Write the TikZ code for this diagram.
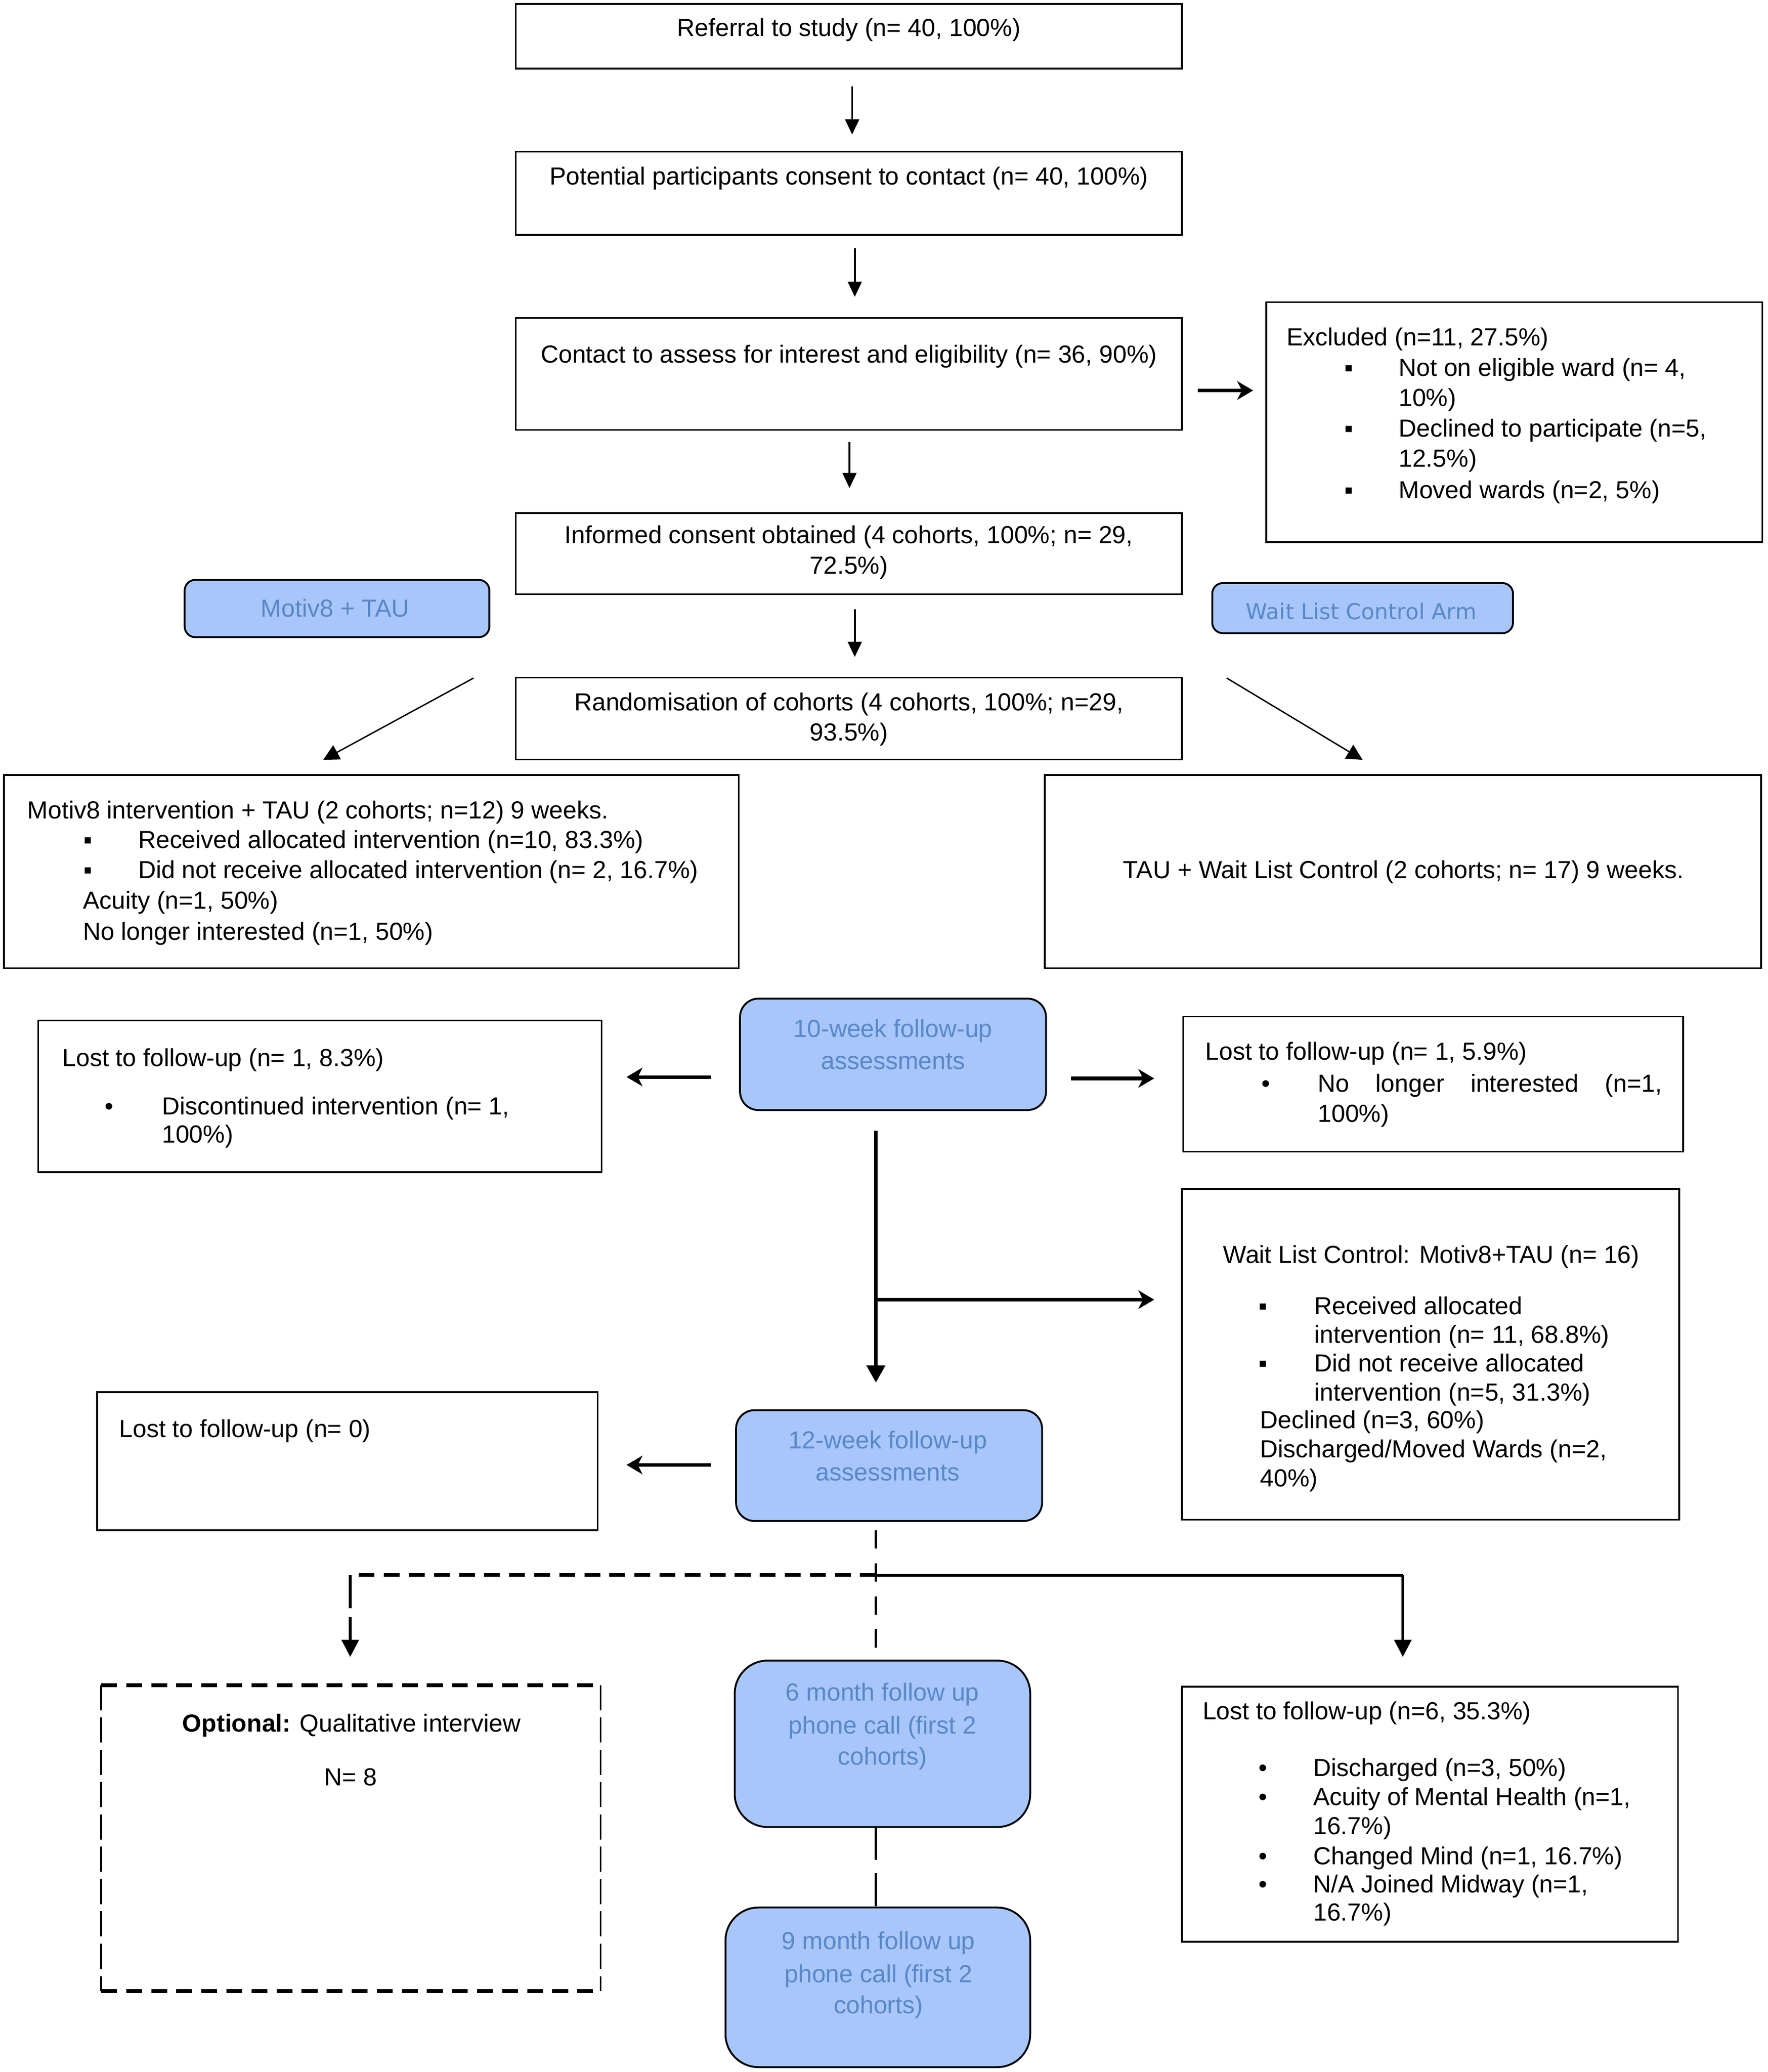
\documentclass[tikz,border=0pt]{standalone}
\usepackage{fontspec}
\setmainfont{Liberation Sans}
\newfontfamily\armfont{DejaVu Sans}
\usetikzlibrary{arrows.meta,fit}
\definecolor{boxblue}{RGB}{168,198,250}
\definecolor{txtblue}{RGB}{88,136,200}
\newcommand{\fs}{\fontsize{10.64pt}{13.1pt}\selectfont}
\tikzset{
  box/.style={draw, line width=0.75pt, inner sep=0pt},
  rbox/.style={draw, line width=0.8pt, fill=boxblue, inner sep=0pt, rounded corners=#1},
  tl/.style={anchor=base west, inner sep=0pt, font=\fs},
  tc/.style={anchor=base, inner sep=0pt, font=\fs},
  bt/.style={anchor=base, inner sep=0pt, font=\fs, text=txtblue},
  arr/.style={-{Triangle[length=2.3mm,width=2.1mm]}, line width=0.8pt},
  darr/.style={-{Triangle[length=2.4mm,width=2.4mm]}, line width=0.6pt},
  tarr/.style={-{Stealth[length=2.4mm,width=2.8mm,inset=0.7mm]}, line width=1.5pt},
  varr/.style={-{Triangle[length=2.6mm,width=2.8mm]}, line width=1.3pt},
  shortdash/.style={dash pattern=on 2.4mm off 1.4mm}
}
\begin{document}
\begin{tikzpicture}[x=0.2mm,y=-0.2mm]
\path[use as bounding box, fill=white] (0,0) rectangle (1340,1570.7);

% --- top chain
\node[box, fit={(391,3)(896,52)}] (ref) {};
\node[tc] (refT) at (643.5,27.5) {Referral to study (n= 40, 100\%)};
\coordinate (a1s) at (646,65.6); \coordinate (a1e) at (646,102);
\draw[arr] (a1s) -- (a1e);

\node[box, fit={(391,115)(896,178)}] (pot) {};
\node[tc] (potT) at (643.5,140) {Potential participants consent to contact (n= 40, 100\%)};
\coordinate (a2s) at (648,188); \coordinate (a2e) at (648,225);
\draw[arr] (a2s) -- (a2e);

\node[box, fit={(391,241)(896,326)}] (con) {};
\node[tc] (conT) at (643.5,275) {Contact to assess for interest and eligibility (n= 36, 90\%)};
\coordinate (a3s) at (644,335); \coordinate (a3e) at (644,370);
\draw[arr] (a3s) -- (a3e);
\coordinate (axs) at (908,296); \coordinate (axe) at (950,296);
\draw[tarr] (axs) -- (axe);

% --- excluded
\node[box, fit={(960,229)(1336,411)}] (exc) {};
\node[tl] (excT) at (975,262) {Excluded (n=11, 27.5\%)};
\node[tl] (excB1) at (1019,285) {▪};
\node[tl] (excL1) at (1060,285) {Not on eligible ward (n= 4,};
\node[tl] (excL1b) at (1060,308) {10\%)};
\node[tl] (excB2) at (1019,331) {▪};
\node[tl] (excL2) at (1060,331) {Declined to participate (n=5,};
\node[tl] (excL2b) at (1060,354) {12.5\%)};
\node[tl] (excB3) at (1019,378) {▪};
\node[tl] (excL3) at (1060,378) {Moved wards (n=2, 5\%)};

% --- consent
\node[box, fit={(391,389)(896,450.5)}] (inf) {};
\node[tc] (infT1) at (643.5,412) {Informed consent obtained (4 cohorts, 100\%; n= 29,};
\node[tc] (infT2) at (643.5,435) {72.5\%)};
\coordinate (a4s) at (648,462); \coordinate (a4e) at (648,498);
\draw[arr] (a4s) -- (a4e);

% --- arm labels
\node[rbox=1.6mm, fit={(140,439.6)(371,483)}] (armA) {};
\node[bt] (armAT) at (254,467.5) {Motiv8 + TAU};
\node[rbox=1.6mm, fit={(919,442)(1147,480)}] (armB) {};
\node[anchor=base, inner sep=0pt, text=txtblue, font=\armfont\fontsize{9.4pt}{11pt}\selectfont] (armBT) at (1032,469.5) {Wait List Control Arm};

% --- randomisation
\node[box, fit={(391,513.7)(896,575.7)}] (ran) {};
\node[tc] (ranT1) at (643.5,538.8) {Randomisation of cohorts (4 cohorts, 100\%; n=29,};
\node[tc] (ranT2) at (643.5,561.4) {93.5\%)};
\coordinate (dls) at (359,514); \coordinate (dle) at (245,576);
\draw[darr] (dls) -- (dle);
\coordinate (drs) at (930,514); \coordinate (dre) at (1033,576);
\draw[darr] (drs) -- (dre);

% --- arms
\node[box, fit={(3,587.6)(560,734)}] (mot) {};
\node[tl] (motT) at (20.5,620.5) {Motiv8 intervention + TAU (2 cohorts; n=12) 9 weeks.};
\node[tl] (motB1) at (63,643) {▪};
\node[tl] (motL1) at (104.4,643) {Received allocated intervention (n=10, 83.3\%)};
\node[tl] (motB2) at (63,666) {▪};
\node[tl] (motL2) at (104.4,666) {Did not receive allocated intervention (n= 2, 16.7\%)};
\node[tl] (motL3) at (62.5,689) {Acuity (n=1, 50\%)};
\node[tl] (motL4) at (62.5,712.5) {No longer interested (n=1, 50\%)};

\node[box, fit={(792,587.6)(1335,734)}] (tau) {};
\node[tc] (tauT) at (1064,666) {TAU + Wait List Control (2 cohorts; n= 17) 9 weeks.};

% --- 10 week
\node[rbox=2.8mm, fit={(561,757)(793,841.5)}] (w10) {};
\node[bt] (w10T1) at (677,786.3) {10-week follow-up};
\node[bt] (w10T2) at (677,810.6) {assessments};

\node[box, fit={(29,773.5)(456,888.5)}] (l10a) {};
\node[tl] (l10aT) at (47,808.4) {Lost to follow-up (n= 1, 8.3\%)};
\node[tl] (l10aB) at (79,845) {•};
\node[tl] (l10aL1) at (122.4,845) {Discontinued intervention (n= 1,};
\node[tl] (l10aL2) at (122.4,866.4) {100\%)};
\coordinate (a5s) at (539,816.4); \coordinate (a5e) at (475,816.4);
\draw[tarr] (a5s) -- (a5e);

\node[box, fit={(897,770.6)(1276,873)}] (l10b) {};
\node[tl] (l10bT) at (913.5,803.5) {Lost to follow-up (n= 1, 5.9\%)};
\node[tl] (l10bB) at (956,827.8) {•};
\node[tl] (l10bL1) at (998.7,827.8) {\makebox[52.2mm][s]{No longer interested (n=1,}};
\node[tl] (l10bL2) at (998.7,850.7) {100\%)};
\coordinate (a6s) at (812,817.5); \coordinate (a6e) at (875,817.5);
\draw[tarr] (a6s) -- (a6e);

% --- vertical 10 -> 12 with branch
\coordinate (v1s) at (664,857); \coordinate (v1e) at (664,1048);
\draw[varr] (v1s) -- (v1e);
\coordinate (brs) at (664,985.2); \coordinate (bre) at (875,985.2);
\draw[tarr] (brs) -- (bre);

% --- WLC box
\node[box, fit={(896,901.3)(1273,1152)}] (wlc) {};
\node[tl] (wlcT) at (927,957.4) {Wait List Control: Motiv8+TAU (n= 16)};
\node[tl] (wlcB1) at (954,996.6) {▪};
\node[tl] (wlcL1) at (996,996.6) {Received allocated};
\node[tl] (wlcL1b) at (996,1018) {intervention (n= 11, 68.8\%)};
\node[tl] (wlcB2) at (954,1040) {▪};
\node[tl] (wlcL2) at (996,1040) {Did not receive allocated};
\node[tl] (wlcL2b) at (996,1061.9) {intervention (n=5, 31.3\%)};
\node[tl] (wlcL3) at (955,1083) {Declined (n=3, 60\%)};
\node[tl] (wlcL4) at (955,1104.8) {Discharged/Moved Wards (n=2,};
\node[tl] (wlcL4b) at (955,1126.8) {40\%)};

% --- 12 week
\node[box, fit={(73.6,1055.3)(453,1160)}] (l12) {};
\node[tl] (l12T) at (90,1089.6) {Lost to follow-up (n= 0)};
\node[rbox=2.8mm, fit={(558,1069)(790,1153)}] (w12) {};
\node[bt] (w12T1) at (673,1098) {12-week follow-up};
\node[bt] (w12T2) at (673,1122.5) {assessments};
\coordinate (a7s) at (539,1110.5); \coordinate (a7e) at (475,1110.5);
\draw[tarr] (a7s) -- (a7e);

% --- split below 12 week
\coordinate (s0) at (664,1160);
\coordinate (jc) at (664,1194);
\coordinate (jl) at (265.5,1194);
\coordinate (jr) at (1063.5,1194);
\coordinate (jle) at (265.5,1256);
\coordinate (jre) at (1063.5,1256);
\coordinate (s6) at (664,1258);
\draw[line width=0.9pt, dash pattern=on 2.8mm off 2.2mm] (s0) -- (s6);
\draw[line width=1.5pt, shortdash] (jc) -- (jl);
\draw[line width=1.2pt] (jc) -- (jr);
\draw[line width=1.1pt, dash pattern=on 5mm off 1.4mm, -{Triangle[length=2.6mm,width=2.6mm]}] (jl) -- (jle);
\draw[line width=1.1pt, -{Triangle[length=2.6mm,width=2.6mm]}] (jr) -- (jre);

% --- optional
\node[inner sep=0pt, fit={(77,1277.8)(455,1509)}] (opt) {};
\draw[line width=1.7pt, shortdash] (opt.north west) -- (opt.north east);
\draw[line width=1.7pt, shortdash] (opt.south west) -- (opt.south east);
\draw[line width=0.8pt, dash pattern=on 3.8mm off 1.1mm] (opt.north west) -- (opt.south west);
\draw[line width=0.8pt, dash pattern=on 3.8mm off 1.1mm] (opt.north east) -- (opt.south east);
\node[tc] (optT) at (266.5,1313) {\textbf{Optional:} Qualitative interview};
\node[tc] (optN) at (266,1353.7) {N= 8};

% --- 6 and 9 month
\node[rbox=5mm, fit={(557,1258.8)(781,1385)}] (m6) {};
\node[bt] (m6T1) at (669,1289.3) {6 month follow up};
\node[bt] (m6T2) at (669,1314.3) {phone call (first 2};
\node[bt] (m6T3) at (669,1338) {cohorts)};
\node[rbox=5mm, fit={(550,1446)(781,1567)}] (m9) {};
\node[bt] (m9T1) at (666,1477.6) {9 month follow up};
\node[bt] (m9T2) at (666,1502.7) {phone call (first 2};
\node[bt] (m9T3) at (666,1526.5) {cohorts)};
\coordinate (m6s) at (664,1385); \coordinate (m9n) at (664,1446);
\draw[line width=0.9pt, dash pattern=on 5mm off 2mm] (m6s) -- (m9n);

% --- lost 6
\node[box, fit={(896,1278.6)(1272,1472)}] (l6) {};
\node[tl] (l6T) at (911.4,1303.6) {Lost to follow-up (n=6, 35.3\%)};
\node[tl] (l6B1) at (954,1346.5) {•};
\node[tl] (l6L1) at (995.3,1346.5) {Discharged (n=3, 50\%)};
\node[tl] (l6B2) at (954,1368.5) {•};
\node[tl] (l6L2) at (995.3,1368.5) {Acuity of Mental Health (n=1,};
\node[tl] (l6L2b) at (995.3,1390.6) {16.7\%)};
\node[tl] (l6B3) at (954,1413.3) {•};
\node[tl] (l6L3) at (995.3,1413.3) {Changed Mind (n=1, 16.7\%)};
\node[tl] (l6B4) at (954,1434.7) {•};
\node[tl] (l6L4) at (995.3,1434.7) {N/A Joined Midway (n=1,};
\node[tl] (l6L4b) at (995.3,1456.2) {16.7\%)};
\end{tikzpicture}
\end{document}
